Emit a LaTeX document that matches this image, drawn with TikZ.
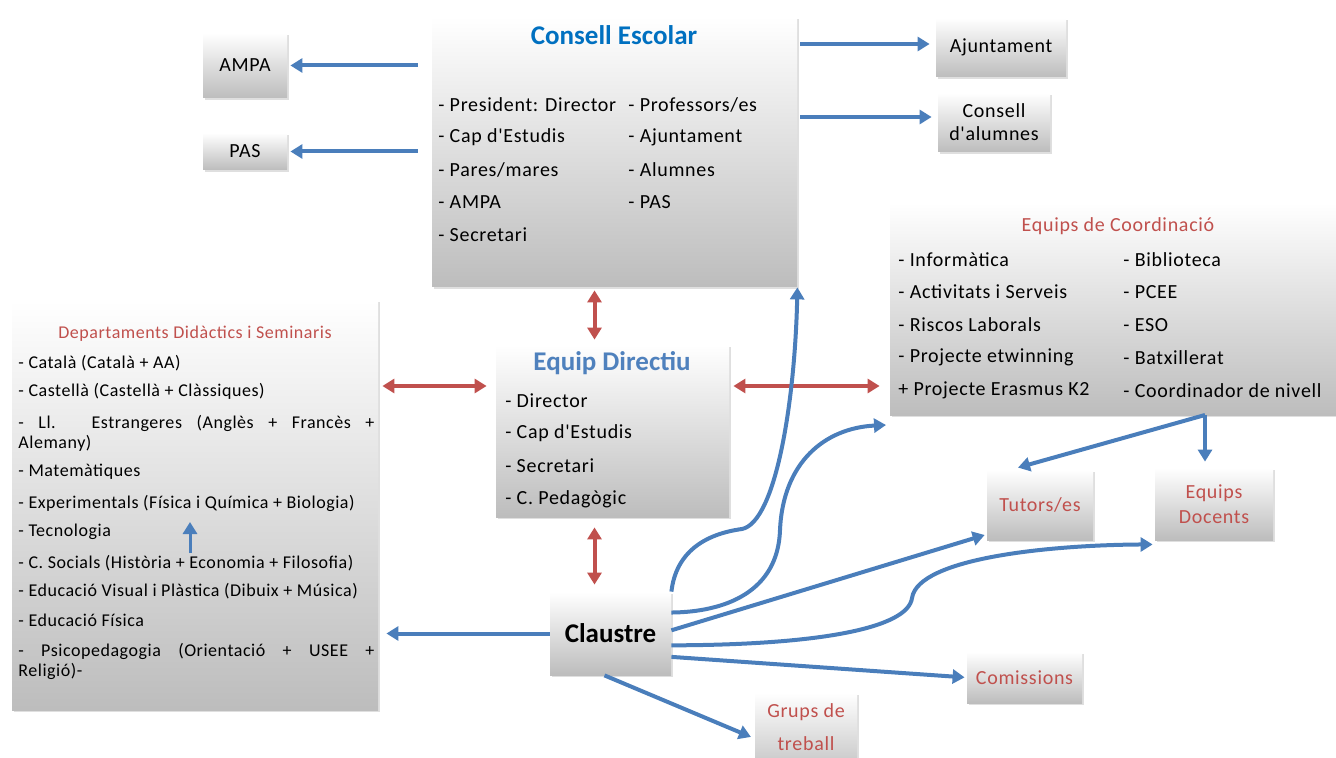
\documentclass[tikz,border=0pt]{standalone}
\usepackage{fontspec}
\setmainfont{Carlito}
\newfontfamily\spaced[LetterSpace=3.5]{Carlito}
\newfontfamily\spacedsmall[LetterSpace=3]{Carlito}
\usetikzlibrary{arrows.meta}
\usetikzlibrary{shadows}
\usetikzlibrary{fit}
\usetikzlibrary{calc}

\definecolor{arrowblue}{HTML}{4A7EBB}
\definecolor{arrowred}{HTML}{C0504D}
\definecolor{titleblue}{HTML}{0070C0}
\definecolor{headblue}{HTML}{4F81BD}
\definecolor{textred}{HTML}{C0504D}

\tikzset{
  box/.style={inner sep=0pt, top color=white, bottom color=black!26,
    drop shadow={opacity=0.25, shadow xshift=0.8pt, shadow yshift=-0.8pt}},
  item/.style={anchor=west, inner sep=0pt, align=left},
  small/.style={font=\spacedsmall\fontsize{9}{10}\selectfont},
  heading/.style={font=\bfseries\fontsize{13.5}{15}\selectfont},
  redtext/.style={text=textred},
  bluearrow/.style={draw=arrowblue, line width=2pt, -{Triangle[length=6pt,width=7pt]}},
  redarrow/.style={draw=arrowred, line width=2pt,
    {Triangle[length=6pt,width=7pt]}-{Triangle[length=6pt,width=7pt]}},
}

\begin{document}
\begin{tikzpicture}[x=0.5pt, y=-0.5pt, font=\spaced\fontsize{10}{12}\selectfont]
    \useasboundingbox (0,0) rectangle (1336,758);

    % boxes
    \node[box, fit={(432,17) (797,287)}] (consell) {};
    \node[box, fit={(203,33) (287,98)}, label=center:AMPA] (ampa) {};
    \node[box, fit={(203,133) (287,170)}, label=center:PAS] (pas) {};
    \node[box, fit={(936,18) (1066,77)}, label=center:Ajuntament] (ajunt) {};
    \node[box, fit={(938,93) (1050,152)},
      label={[align=center, font=\spaced\fontsize{10}{11.5}\selectfont]center:Consell\\d'alumnes}] (calumnes) {};
    \node[box, fit={(890,203) (1342,415)}] (coord) {};
    \node[box, fit={(12,300) (378,710)}] (dept) {};
    \node[box, fit={(496,345) (729,517)}] (ed) {};
    \node[box, fit={(550,592) (671,675)}, label={[heading]center:Claustre}] (claustre) {};
    \node[box, fit={(987,470) (1093,540)}, label={[redtext]center:Tutors/es}] (tutors) {};
    \node[box, fit={(1155,468) (1273,540)},
      label={[redtext, align=center, font=\spaced\fontsize{10}{12.5}\selectfont]center:Equips\\Docents}] (docents) {};
    \node[box, fit={(967,652) (1082,703)}, label={[redtext]center:Comissions}] (comissions) {};
    \node[box, fit={(755,693) (857,780)}] (grups) {};
    \node[redtext, align=center, font=\spaced\fontsize{10}{16.5}\selectfont] (grupstext) at (806,727) {Grups de\\treball};

    % Consell Escolar
    \node[heading, text=titleblue] (cetitle) at (614,35) {Consell Escolar};
    \foreach \t [count=\k] in {- President: Director, - Cap d'Estudis, - Pares/mares, - AMPA, - Secretari}
    {
     \node[item] (cel\k) at (438, 72.5+32.5*\k) {\t};
    }
    \foreach \t [count=\k] in {- Professors/es, - Ajuntament, - Alumnes, - PAS}
    {
     \node[item] (cer\k) at (628, 72.5+32.5*\k) {\t};
    }

    % Equips de Coordinacio
    \node[redtext] (cotitle) at (1118,226) {Equips de Coordinació};
    \foreach \t [count=\k] in {- Informàtica, - Activitats i Serveis, - Riscos Laborals,
      - Projecte etwinning, + Projecte Erasmus K2}
    {
     \node[item] (col\k) at (898, 226.5+32.75*\k) {\t};
    }
    \foreach \t [count=\k] in {- Biblioteca, - PCEE, - ESO, - Batxillerat, - Coordinador de nivell}
    {
     \node[item] (cor\k) at (1123, 226.5+32.75*\k) {\t};
    }

    % Equip Directiu
    \node[heading, text=headblue] (edtitle) at (612,363) {Equip Directiu};
    \foreach \t [count=\k] in {- Director, - Cap d'Estudis, - Secretari, - C. Pedagògic}
    {
     \node[item] (ed\k) at (505, 368+32.7*\k) {\t};
    }

    % Departaments
    \node[redtext, small] (dtitle) at (195,334) {Departaments Didàctics i Seminaris};
    \foreach \y/\t [count=\k] in {363/- Català (Català + AA),
      391/- Castellà (Castellà + Clàssiques),
      433/{\makebox[178pt][s]{- Ll. Estrangeres (Anglès + Francès +}\\Alemany)},
      472/- Matemàtiques,
      503/- Experimentals (Física i Química + Biologia),
      532/- Tecnologia,
      563/- C. Socials (Història + Economia + Filosofia),
      591/- Educació Visual i Plàstica (Dibuix + Música),
      620/- Educació Física,
      661/{\makebox[178pt][s]{- Psicopedagogia (Orientació + USEE +}\\Religió)-}}
    {
     \node[item, small] (dl\k) at (18,\y) {\t};
    }
    \coordinate (tecfrom) at (190,553);
    \coordinate (tecto) at (190,522);
    \draw[bluearrow, line width=1.5pt] (tecfrom) -- (tecto);

    % Consell Escolar arrows
    \draw[bluearrow, shorten <=7pt, shorten >=1.5pt] (consell.west |- ampa.east) -- (ampa.east);
    \draw[bluearrow, shorten <=7pt, shorten >=1.5pt] (consell.west |- pas.east) -- (pas.east);
    \draw[bluearrow, shorten <=1.5pt, shorten >=3pt] (consell.east |- 0,44) -- (ajunt.west |- 0,44);
    \draw[bluearrow, shorten <=1.5pt, shorten >=3pt] (consell.east |- 0,117) -- (calumnes.west |- 0,117);

    % red links
    \draw[redarrow, shorten <=1.5pt, shorten >=2.5pt] ([xshift=-9pt]ed.north |- consell.south) -- ([xshift=-9pt]ed.north);
    \draw[redarrow, shorten <=5pt, shorten >=3.5pt] ([xshift=-8pt]claustre.north |- ed.south) -- ([xshift=-8pt]claustre.north);
    \draw[redarrow, shorten <=2pt, shorten >=4.5pt] (dept.east |- 0,386) -- (ed.west |- 0,386);
    \draw[redarrow, shorten <=2pt, shorten >=5pt] (ed.east |- 0,386) -- (coord.west |- 0,386);

    % Equips de Coordinacio arrows
    \coordinate (cosplit) at (1205,415);
    \coordinate (cotip) at (886,425);
    \draw[bluearrow] (cosplit) -- ([xshift=-11pt, yshift=1pt]tutors.north);
    \draw[bluearrow, shorten >=3pt] (cosplit) -- (cosplit |- docents.north);

    % Claustre arrows
    \draw[bluearrow, shorten >=4pt] (claustre.west) -- (claustre.west -| dept.east);
    \draw[bluearrow] (claustre.north east) .. controls (676,552) and (705,534) .. (742,529)
      .. controls (776,522) and (795,400) .. (consell.south east);
    \draw[bluearrow] (claustre.19) .. controls (725,612) and (778,592) .. (780,530)
      .. controls (783,462) and (825,428) .. (cotip);
    \draw[bluearrow, shorten >=1pt] (claustre.3) -- ([yshift=3pt]tutors.south west);
    \draw[bluearrow, shorten >=1pt] (claustre.-11) .. controls (820,645) and (908,628) .. (912,598)
      .. controls (918,558) and (1050,545) .. ([yshift=-2pt]docents.south west);
    \draw[bluearrow, shorten >=1pt] (claustre.-21) -- (comissions.west);
    \draw[bluearrow, shorten >=2pt] ([xshift=-3pt]claustre.south) -- ([yshift=-1pt]grups.west);
\end{tikzpicture}
\end{document}
